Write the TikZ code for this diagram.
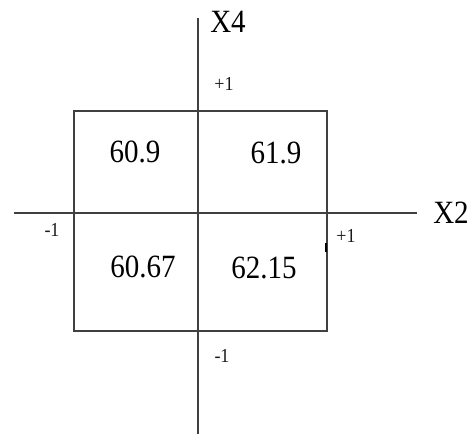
\documentclass[tikz,border=0pt]{standalone}
\usepackage{fontspec}
\setmainfont{Liberation Serif}
\begin{document}
\begin{tikzpicture}[x=1pt,y=-1pt,
  ln/.style={draw=black!75,line width=1.4pt},
  big/.style={font=\fontsize{29}{31}\selectfont,inner sep=0pt,yscale=1.12,transform shape},
  small/.style={font=\fontsize{18}{19}\selectfont,inner sep=0pt,text=black!90,yscale=1.1,transform shape}]
\useasboundingbox[fill=white] (0,0) rectangle (472,436);
% box
\draw[ln] (74,111) rectangle (327,331);
% axes
\coordinate (vt) at (198,18);
\coordinate (vb) at (198,434);
\coordinate (hl) at (14,213);
\coordinate (hr) at (417,213);
\draw[ln] (vt) -- (vb);
\draw[ln] (hl) -- (hr);
% artifact tick on right edge
\draw[draw=black,line width=2pt] (325.5,243) -- (325.5,252);
% axis labels
\node[big] (x4) at (228,22) {X4};
\node[big] (x2) at (451,213) {X2};
% tick labels
\node[small] (p1t) at (224,84) {+1};
\node[small] (m1l) at (52,230) {-1};
\node[small] (p1r) at (346,236) {+1};
\node[small] (m1b) at (222,356) {-1};
% values
\node[big] (a) at (135,152) {60.9};
\node[big] (b) at (276,153) {61.9};
\node[big] (c) at (143,267) {60.67};
\node[big] (d) at (264,268) {62.15};
\end{tikzpicture}
\end{document}
